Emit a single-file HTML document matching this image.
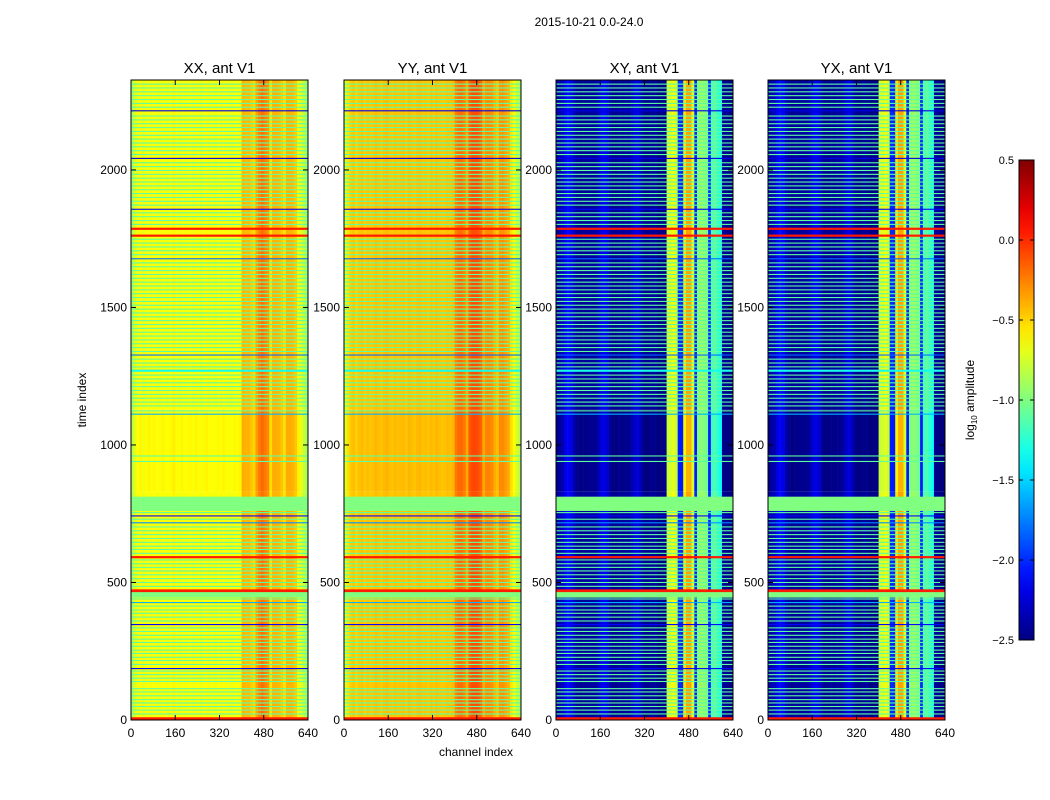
<!DOCTYPE html>
<html><head><meta charset="utf-8"><style>
body{margin:0;background:#fff;width:1050px;height:800px;overflow:hidden;font-family:"Liberation Sans",sans-serif}
svg{position:absolute;left:0;top:0}
</style></head><body>
<svg id="chart" width="1050" height="800" xmlns="http://www.w3.org/2000/svg">
<text x="589" y="26" font-size="12" text-anchor="middle">2015-10-21 0.0-24.0</text>
<text x="86" y="400" font-size="12" text-anchor="middle" transform="rotate(-90 86 400)">time index</text>
<text x="476" y="756" font-size="12" text-anchor="middle">channel index</text>
<text x="974" y="400" font-size="12" text-anchor="middle" transform="rotate(-90 974 400)">log<tspan font-size="8" dy="3">10</tspan><tspan dy="-3"> amplitude</tspan></text>
</svg>
<script>
// ---- data ----
const panelNames = ["XX, ant V1","YY, ant V1","XY, ant V1","YX, ant V1"];
const chanBinWidth = 10;
const profXX = [-0.85,-0.7,-0.65,-0.62,-0.68,-0.64,-0.62,-0.66,-0.63,-0.65,-0.66,-0.62,-0.64,-0.65,-0.63,-0.6,-0.64,-0.66,-0.62,-0.65,-0.64,-0.63,-0.66,-0.62,-0.64,-0.66,-0.63,-0.62,-0.65,-0.64,-0.66,-0.63,-0.65,-0.62,-0.64,-0.66,-0.65,-0.63,-0.64,-0.62,
 -0.4,-0.42,-0.42,-0.47,-0.52,-0.35,-0.25,-0.2,-0.25,-0.3,-0.55,-0.4,-0.4,-0.42,-0.47,-0.55,-0.4,-0.4,-0.42,-0.47,-0.6,-0.7,-0.8,-0.9];
const profYY = [-0.75,-0.55,-0.48,-0.45,-0.5,-0.46,-0.44,-0.48,-0.45,-0.47,-0.46,-0.43,-0.45,-0.47,-0.44,-0.42,-0.45,-0.47,-0.44,-0.46,-0.45,-0.44,-0.47,-0.43,-0.45,-0.47,-0.44,-0.43,-0.46,-0.45,-0.47,-0.44,-0.46,-0.43,-0.45,-0.47,-0.46,-0.44,-0.45,-0.43,
 -0.25,-0.2,-0.2,-0.25,-0.38,-0.15,-0.1,-0.1,-0.12,-0.18,-0.38,-0.28,-0.28,-0.3,-0.4,-0.45,-0.3,-0.3,-0.35,-0.4,-0.55,-0.65,-0.75,-0.85];
const profXY = [-2.4,-2.35,-2.3,-2.15,-2.1,-2.15,-2.3,-2.4,-2.45,-2.42,-2.42,-2.42,-2.4,-2.4,-2.4,-2.28,-2.18,-2.15,-2.22,-2.35,-2.45,-2.45,-2.42,-2.42,-2.42,-2.4,-2.4,-2.32,-2.22,-2.18,-2.28,-2.4,-2.45,-2.45,-2.42,-2.42,-2.45,-2.48,-2.48,-2.45,
 -0.75,-0.7,-0.65,-0.75,-2.0,-2.0,-0.55,-0.35,-0.35,-0.7,-2.0,-0.95,-0.92,-0.95,-1.0,-2.0,-1.15,-1.1,-1.2,-1.3,-2.4,-2.45,-2.48,-2.48];
const profYX = [-2.4,-2.35,-2.3,-2.15,-2.1,-2.15,-2.3,-2.4,-2.45,-2.42,-2.42,-2.42,-2.4,-2.4,-2.4,-2.28,-2.18,-2.15,-2.22,-2.35,-2.45,-2.45,-2.42,-2.42,-2.42,-2.4,-2.4,-2.32,-2.22,-2.18,-2.28,-2.4,-2.45,-2.45,-2.42,-2.42,-2.45,-2.48,-2.48,-2.45,
 -0.75,-0.7,-0.65,-0.75,-2.0,-2.0,-0.55,-0.35,-0.35,-0.7,-2.0,-0.95,-0.92,-0.95,-1.0,-2.0,-1.15,-1.1,-1.2,-1.3,-2.4,-2.45,-2.48,-2.48];
const segStarts = [0, 830, 1130];
const segEnds = [830, 1130, 2327];
const segOffXX = [0, 0.02, 0];
const segOffYY = [0, 0.02, 0];
const segOffXY = [0, -0.05, 0];
const segOffYX = [0, -0.05, 0];
const flagTimes = [20,34,47,60,72,86,100,112,138,150,163,176,200,214,226,240,252,266,280,292,306,320,333,358,372,386,398,412,438,452,484,498,512,526,540,553,566,580,604,618,630,644,658,672,686,700,728,752,
 938,958,1122,
 1140,1154,1168,1182,1196,1210,1224,1238,1252,1268,1282,1296,1310,1338,1352,1366,1380,1394,1408,1422,1436,1450,1464,1478,1492,1506,1520,1534,1548,1562,1576,1590,1604,1618,1632,1646,1660,1690,1704,1718,1732,1746,1800,1814,1828,1842,1870,1884,1898,1912,1926,1940,1954,1968,1982,1996,2010,2024,2054,2068,2082,2096,2110,2124,2138,2152,2166,2180,2194,2226,2240,2254,2268,2282,2296,2310];
const flagValue = -1.1;
const bandStarts = [0,445,465,588,760,1757,1782,185,345,425,715,740,1110,1325,1675,1855,2040,2213,1266];
const bandWidths = [10,22,10,8,52,8,8,4,4,4,4,4,4,4,4,4,4,4,8];
const bandValues = [0.05,-1.0,0.05,0.05,-1.0,0.05,0.05,-2.1,-2.1,-1.6,-1.7,-2.1,-1.6,-1.8,-1.8,-2.1,-2.2,-2.2,-1.3];
const yTicks = [0,500,1000,1500,2000];
const xTicks = [0,160,320,480,640];
const cbTicks = [0.5,0.0,-0.5,-1.0,-1.5,-2.0,-2.5];
const tMax = 2327, chMax = 640, vMin = -2.5, vMax = 0.5;

// ---- helpers ----
const NS = "http://www.w3.org/2000/svg";
const svg = document.getElementById("chart");
function mk(tag, attrs, parent){const e=document.createElementNS(NS,tag);for(const k in attrs)e.setAttribute(k,attrs[k]);(parent||svg).appendChild(e);return e;}
function jet(v){
  let x=(v-vMin)/(vMax-vMin); x=Math.max(0,Math.min(1,x));
  const f=(a)=>Math.max(0,Math.min(1,a));
  const r=f(1.5-Math.abs(4*x-3)), g=f(1.5-Math.abs(4*x-2)), b=f(1.5-Math.abs(4*x-1));
  return `rgb(${Math.round(r*255)},${Math.round(g*255)},${Math.round(b*255)})`;
}
const panelX = [131,344,556,768], pW = 177, pTop = 80, pBot = 720;
const yScale = t => pBot - t*(pBot-pTop)/tMax;
const profs = [profXX, profYY, profXY, profYX];
const segOffs = [segOffXX, segOffYY, segOffXY, segOffYX];

panelNames.forEach((name, p) => {
  const x0 = panelX[p];
  const xScale = c => x0 + c*pW/chMax;
  const g = mk("g", {});
  
  
  for (let s=0;s<segStarts.length;s++){
    profs[p].forEach((v,i)=>{
      const xa=xScale(i*chanBinWidth), xb=xScale((i+1)*chanBinWidth);
      const ya=yScale(segEnds[s]), yb=yScale(segStarts[s]);
      const r = mk("rect",{x:xa,y:ya,width:xb-xa+0.3,height:yb-ya,fill:jet(v+segOffs[p][s])},g);
      
      
    });
  }
  flagTimes.forEach(t=>{
    const r = mk("rect",{x:x0,y:yScale(t+4),width:pW,height:yScale(t)-yScale(t+4),fill:jet(flagValue)},g);
    
    
  });
  bandStarts.forEach((t,i)=>{
    const r = mk("rect",{x:x0,y:yScale(t+bandWidths[i]),width:pW,height:yScale(t)-yScale(t+bandWidths[i]),fill:jet(bandValues[i])},g);
    
    
  });
  const fr = mk("rect",{x:x0,y:pTop,width:pW,height:pBot-pTop,fill:"none",stroke:"#000","stroke-width":1});
  
  
  const tt = mk("text",{x:x0+pW/2,y:73,"font-size":15,"text-anchor":"middle"});
  tt.textContent = name;
  
  
  yTicks.forEach(t=>{
    const y=yScale(t);
    mk("line",{x1:x0,x2:x0+5,y1:y,y2:y,stroke:"#000"});
    mk("line",{x1:x0+pW-5,x2:x0+pW,y1:y,y2:y,stroke:"#000"});
    const lb = mk("text",{x:x0-4,y:y+4,"font-size":12,"text-anchor":"end"});
    lb.textContent = t;
    
    
  });
  xTicks.forEach(c=>{
    const x=xScale(c);
    mk("line",{x1:x,x2:x,y1:pBot,y2:pBot-5,stroke:"#000"});
    mk("line",{x1:x,x2:x,y1:pTop,y2:pTop+5,stroke:"#000"});
    const lb = mk("text",{x:x,y:737,"font-size":12,"text-anchor":"middle"});
    lb.textContent = c;
    
    
  });
});

const cbX=1019, cbW=15, cbTop=160, cbBot=640;
const defs = mk("defs",{});
const lg = mk("linearGradient",{id:"jetg",x1:0,y1:1,x2:0,y2:0},defs);
for(let i=0;i<=20;i++){mk("stop",{offset:i/20,"stop-color":jet(vMin+(vMax-vMin)*i/20)},lg);}
const cb = mk("rect",{x:cbX,y:cbTop,width:cbW,height:cbBot-cbTop,fill:"url(#jetg)",stroke:"#000"});


cbTicks.forEach(v=>{
  const y = cbBot - (v-vMin)/(vMax-vMin)*(cbBot-cbTop);
  mk("line",{x1:cbX,x2:cbX+4,y1:y,y2:y,stroke:"#000"});
  mk("line",{x1:cbX+cbW-4,x2:cbX+cbW,y1:y,y2:y,stroke:"#000"});
  const lb = mk("text",{x:cbX-5,y:y+4,"font-size":11,"text-anchor":"end"});
  lb.textContent = v.toFixed(1).replace("-","\u2212");
  
  
});
</script>
</body></html>
